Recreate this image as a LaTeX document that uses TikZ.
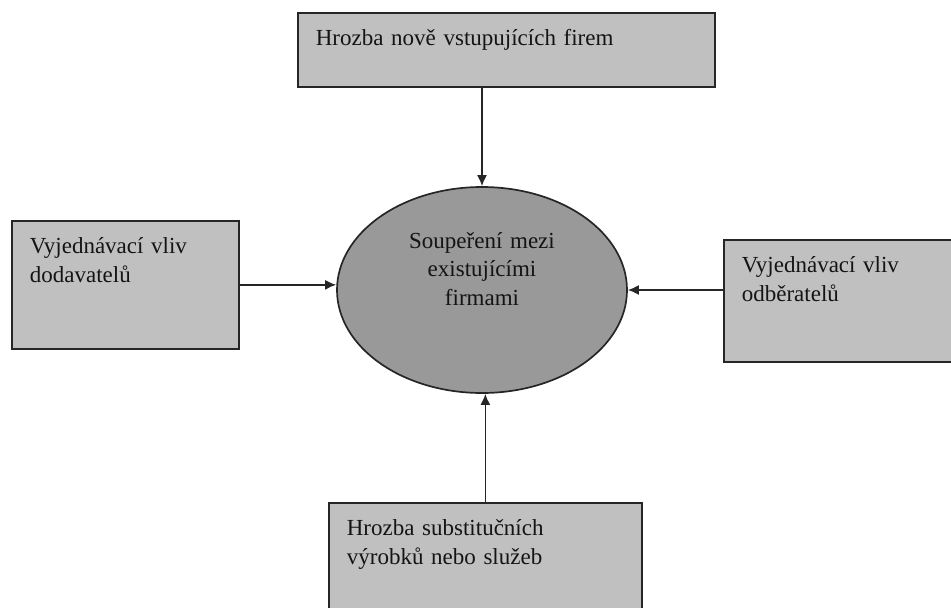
\documentclass[tikz,border=0pt]{standalone}
\usepackage{fontspec}
\setmainfont{Liberation Serif}
\usetikzlibrary{arrows.meta,shapes,positioning}
\definecolor{boxgray}{RGB}{192,192,192}
\definecolor{ovalgray}{RGB}{153,153,153}
\definecolor{inkgray}{RGB}{20,20,20}
\tikzset{
  basic/.style   = {draw=black!85, line width=1.7pt, text=inkgray,
                   font=\fontsize{23}{28.5}\selectfont, inner sep=0pt},
  force/.style   = {basic, rectangle, fill=boxgray, align=left,
                   anchor=north west, inner xsep=18pt, text height=33pt},
  rivalry/.style = {basic, ellipse, fill=ovalgray, align=center,
                   text width=200pt, text height=16pt, text depth=100pt,
                   minimum width=290pt, minimum height=206pt}
}

\begin{document}
\begin{tikzpicture}[x=1pt, y=-1pt, >={Latex[length=11pt,width=10pt]}]
	\useasboundingbox (0,0) rectangle (951,608);
	
	% the rivalry in the middle
	\node[rivalry] (rival) at (482,290)
	{Soupeření mezi\\ existujícími\\ firmami};
	
	% the four forces round it
	\node[force, text width=381pt, text depth=41pt] (entrants) at (297,12)
	{Hrozba nově vstupujících firem};
	\node[force, text width=191pt, text depth=95pt] (suppliers) at (11,220)
	{Vyjednávací vliv\\ dodavatelů};
	\node[force, text width=196pt, text depth=89pt] (buyers) at (723,239)
	{Vyjednávací vliv\\ odběratelů};
	\node[force, text width=277pt, text depth=87pt] (substitutes) at (328,502)
	{Hrozba substitučních\\ výrobků nebo služeb};
	
	% arrows from each force into the rivalry
	\begin{scope}[line width=1.6pt, draw=black!85]
	\draw[->] (entrants.south -| rival.north) -- (rival.north);
	\draw[->] (suppliers.east) -- (suppliers.east -| rival.west);
	\draw[->] (buyers.west |- rival.east) -- (rival.east);
	\draw[->] (substitutes.north) -- (substitutes.north |- rival.south);
	\end{scope}
	
\end{tikzpicture}
\end{document}
